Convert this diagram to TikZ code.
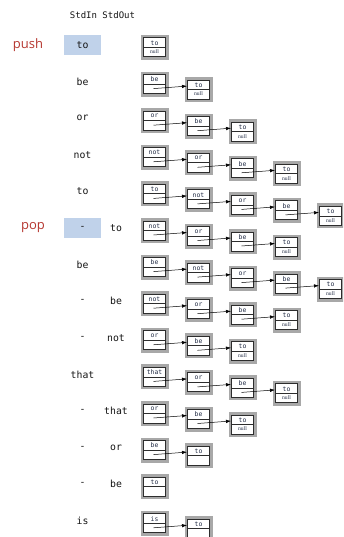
\documentclass[tikz,border=0pt]{standalone}
\usepackage{fontspec}
\setmonofont{DejaVu Sans Mono}
\newfontfamily\opfont{Open Sans}
\newfontfamily\linkfont{Liberation Serif}
\usetikzlibrary{arrows.meta}

\definecolor{framegray}{RGB}{168,168,168}
\definecolor{boxline}{RGB}{45,45,45}
\definecolor{opred}{RGB}{181,54,47}
\definecolor{hilite}{RGB}{192,210,234}
\definecolor{itemink}{RGB}{35,45,70}
\definecolor{stdink}{RGB}{20,20,20}

\tikzset{
  lbox/.style={draw=boxline, line width=1pt, fill=white,
    minimum width=22pt, minimum height=19pt, inner sep=0pt,
    preaction={draw=framegray, line width=6pt},
    path picture={\draw[boxline, line width=0.8pt]
      (path picture bounding box.west) -- (path picture bounding box.east);}},
  itemtxt/.style={inner sep=0pt, text=itemink, font=\ttfamily\fontsize{6.4}{6.4}\selectfont},
  nulltxt/.style={inner sep=0pt, text=itemink, font=\linkfont\fontsize{5.6}{5.6}\selectfont},
  ptr/.style={draw=black, line width=0.5pt, -{Latex[length=5pt,width=3.5pt]}},
  stdtxt/.style={inner sep=0pt, text=stdink, font=\ttfamily\fontsize{9.8}{10}\selectfont},
  hl/.style={fill=hilite, minimum width=37pt, minimum height=20pt},
  optxt/.style={inner sep=0pt, text=opred, font=\opfont\fontsize{13}{14}\selectfont},
}

% one list node: name, position, item, link field text
\newcommand\lnode[4]{%
  \node[lbox] (#1) at (#2) {};
  \node[itemtxt] (#1t) at ([yshift=4.6pt]#1.center) {#3};
  \node[nulltxt] (#1b) at ([yshift=-4.4pt]#1.center) {#4};
}

% a linked list drawn on row #1, items given as top/bottom pairs
\newcommand\chain[2]{%
  \foreach [count=\k from 0] \tp/\bt in {#2} {
    \pgfmathsetmacro\cx{154.5+44*\k}
    \pgfmathsetmacro\cy{47.5+36.6*#1+5.5*\k}
    \lnode{n#1-\k}{\cx,\cy}{\tp}{\bt}
    \ifnum\k>0
      \pgfmathtruncatemacro\pk{\k-1}
      \draw[ptr] ([xshift=-1pt,yshift=-4.5pt]n#1-\pk.center) -- ([yshift=3.5pt]n#1-\k.west);
    \fi
  }%
}

\begin{document}
\begin{tikzpicture}[x=1pt, y=-1pt]
  \clip (0,0) rectangle (343,537);
  \useasboundingbox (0,0) rectangle (343,537);

  % column header
  \node[stdtxt, font=\ttfamily\fontsize{9}{10}\selectfont] (hdr) at (102.5,15) {StdIn StdOut};

  % operation labels
  \node[optxt] (push) at (28,45) {push};
  \node[optxt] (pop) at (33,228) {pop};

  % standard input column
  \node[stdtxt, hl] (in0) at (82.5,45) {to};
  \node[stdtxt] (in1) at (82.5,81.6) {be};
  \node[stdtxt] (in2) at (82.5,118.2) {or};
  \node[stdtxt] (in3) at (82.5,154.8) {not};
  \node[stdtxt] (in4) at (82.5,191.4) {to};
  \node[stdtxt, hl] (in5) at (82.5,228) {-};
  \node[stdtxt] (in6) at (82.5,264.6) {be};
  \node[stdtxt] (in7) at (82.5,301.2) {-};
  \node[stdtxt] (in8) at (82.5,337.8) {-};
  \node[stdtxt] (in9) at (82.5,374.4) {that};
  \node[stdtxt] (in10) at (82.5,411) {-};
  \node[stdtxt] (in11) at (82.5,447.6) {-};
  \node[stdtxt] (in12) at (82.5,484.2) {-};
  \node[stdtxt] (in13) at (82.5,520.8) {is};

  % standard output column
  \node[stdtxt] (out5) at (116,228) {to};
  \node[stdtxt] (out7) at (116,301.2) {be};
  \node[stdtxt] (out8) at (116,337.8) {not};
  \node[stdtxt] (out10) at (116,411) {that};
  \node[stdtxt] (out11) at (116,447.6) {or};
  \node[stdtxt] (out12) at (116,484.2) {be};

  % stack contents after each operation
  \chain{0}{to/null}
  \chain{1}{be/, to/null}
  \chain{2}{or/, be/, to/null}
  \chain{3}{not/, or/, be/, to/null}
  \chain{4}{to/, not/, or/, be/, to/null}
  \chain{5}{not/, or/, be/, to/null}
  \chain{6}{be/, not/, or/, be/, to/null}
  \chain{7}{not/, or/, be/, to/null}
  \chain{8}{or/, be/, to/null}
  \chain{9}{that/, or/, be/, to/null}
  \chain{10}{or/, be/, to/null}
  \chain{11}{be/, to/}
  \chain{12}{to/}
  \chain{13}{is/, to/}
\end{tikzpicture}
\end{document}
